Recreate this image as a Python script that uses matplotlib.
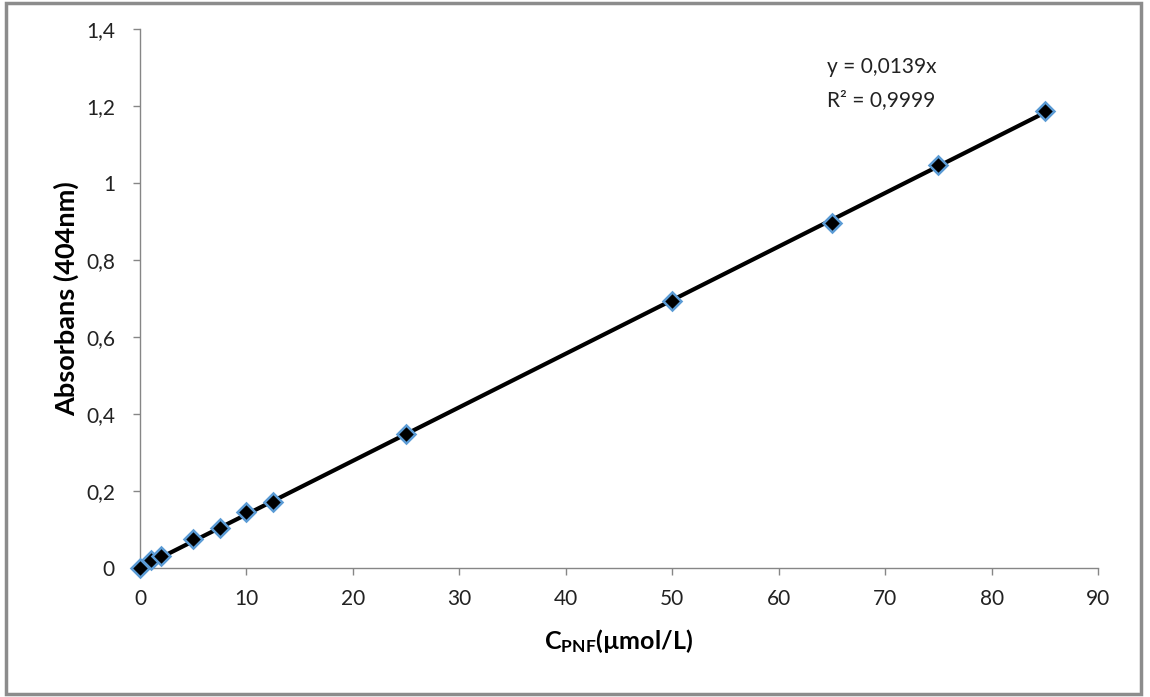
import matplotlib
matplotlib.use("Agg")
import matplotlib.pyplot as plt
import numpy as np
from matplotlib.ticker import FuncFormatter, MultipleLocator
from matplotlib.patches import Rectangle

conc = [0, 1, 2, 5, 7.5, 10, 12.5, 25, 50, 65, 75, 85]
absorb = [0.0, 0.021, 0.031, 0.0745, 0.103, 0.146, 0.172, 0.348, 0.693, 0.896, 1.047, 1.187]
eq_lines = ["y = 0,0139x", "R² = 0,9999"]
x_label = "(µmol/L)"
y_label = "Absorbans (404nm)"

plt.rcParams['font.family'] = ['Lato', 'DejaVu Sans']
plt.rcParams['mathtext.fontset'] = 'custom'
plt.rcParams['mathtext.rm'] = 'Lato'
plt.rcParams['mathtext.bf'] = 'Lato:bold'

fig = plt.figure(figsize=(11.5, 6.97), dpi=100)
ax = fig.add_axes([0.1217, 0.1851, 0.8331, 0.7733])

x = np.array(conc)
y = np.array(absorb)
slope = np.sum(x * y) / np.sum(x * x)
xs = np.array([0, x.max()])
ax.plot(xs, slope * xs, color='black', lw=3.0, zorder=2)
ax.plot(x, y, linestyle='none', marker='D', markersize=9,
        markerfacecolor='black', markeredgecolor='#5B9BD5', markeredgewidth=1.8, zorder=3,
        clip_on=False)

ax.set_xlim(0, 90)
ax.set_ylim(0, 1.4)
ax.xaxis.set_major_locator(MultipleLocator(10))
ax.yaxis.set_major_locator(MultipleLocator(0.2))

def fmt(v, pos):
    s = ('%.1f' % v)
    if s.endswith('.0'):
        s = s[:-2]
    return s.replace('.', ',')

ax.yaxis.set_major_formatter(FuncFormatter(fmt))
ax.xaxis.set_major_formatter(FuncFormatter(lambda v, p: '%d' % v))

for s in ['top', 'right']:
    ax.spines[s].set_visible(False)
for s in ['left', 'bottom']:
    ax.spines[s].set_color('#868686')
    ax.spines[s].set_linewidth(1.0)
ax.tick_params(axis='both', direction='out', length=5, width=1.0, color='#868686',
               labelsize=15, labelcolor='#222222')
ax.tick_params(axis='y', pad=13)
ax.tick_params(axis='x', pad=10)

ax.set_ylabel(y_label, fontsize=19.5, fontweight='bold', labelpad=5)
ax.set_xlabel(r'$\mathbf{C_{PNF}}$' + x_label, fontsize=18, fontweight='bold', labelpad=13)

ax.text(64.5, 1.30, eq_lines[0], fontsize=15, color='#222222', va='center', ha='left')
ax.text(64.5, 1.215, eq_lines[1], fontsize=15, color='#222222', va='center', ha='left')

fig.patches.append(Rectangle((0.005, 0.004), 0.987, 0.992, transform=fig.transFigure,
                             fill=False, edgecolor='#8c8c8c', linewidth=2.5))

fig.savefig('out.png', dpi=100)
